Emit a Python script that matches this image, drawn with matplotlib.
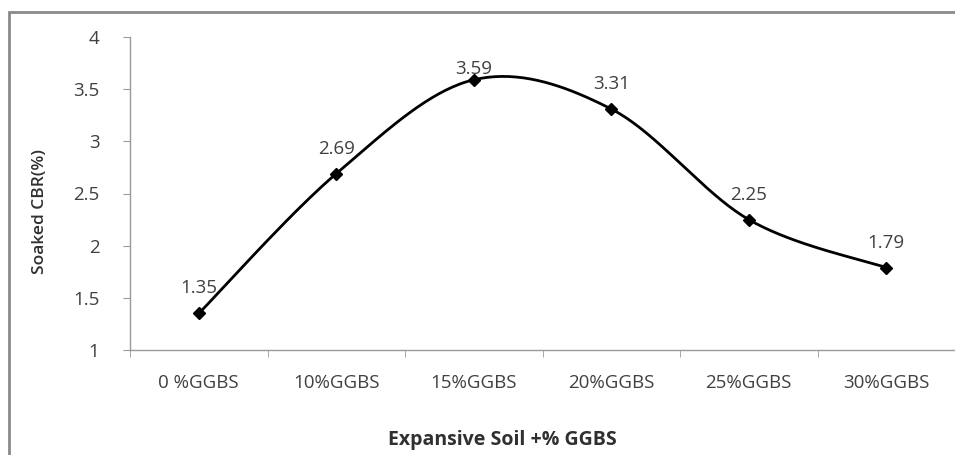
import numpy as np
import matplotlib.pyplot as plt
from matplotlib.patches import Rectangle

categories = ["0 %GGBS", "10%GGBS", "15%GGBS", "20%GGBS", "25%GGBS", "30%GGBS"]
cbr_values = [1.35, 2.69, 3.59, 3.31, 2.25, 1.79]
y_ticks = [1, 1.5, 2, 2.5, 3, 3.5, 4]


def smooth_line(xs, ys, steps=40):
    # excel-style smoothed line (catmull-rom through the points)
    xs = np.asarray(xs, float)
    ys = np.asarray(ys, float)
    px = np.concatenate([[xs[0]], xs, [xs[-1]]])
    py = np.concatenate([[ys[0]], ys, [ys[-1]]])
    out_x, out_y = [], []
    t = np.linspace(0, 1, steps)
    for i in range(1, len(px) - 2):
        for p, out in ((px, out_x), (py, out_y)):
            p0, p1, p2, p3 = p[i - 1], p[i], p[i + 1], p[i + 2]
            out.extend(0.5 * ((2 * p1) + (-p0 + p2) * t
                              + (2 * p0 - 5 * p1 + 4 * p2 - p3) * t**2
                              + (-p0 + 3 * p1 - 3 * p2 + p3) * t**3))
    return out_x, out_y


plt.rcParams['font.family'] = ['Open Sans', 'DejaVu Sans']

W, H = 955, 455
fig = plt.figure(figsize=(W / 100, H / 100), dpi=100)
fig.patches.append(Rectangle((9 / W, -0.1), 2, (H - 12) / H + 0.1,
                             transform=fig.transFigure, fill=False,
                             edgecolor="#8a8a8a", linewidth=2))

ax = fig.add_axes([130 / W, 1 - 350 / H, (W - 130) / W, (350 - 37) / H])
x = np.arange(len(categories))

sx, sy = smooth_line(x, cbr_values)
ax.plot(sx, sy, color="black", linewidth=2)
ax.plot(x, cbr_values, linestyle="none", marker="D", markersize=6.5,
        color="black")

for i, v in enumerate(cbr_values):
    dy = 8 if i == 2 else 18
    ax.annotate(f"{v:.2f}", (i, v), xytext=(0, dy), textcoords="offset points",
                ha="center", va="center", fontsize=13.5, color="#404040")

ax.set_xlim(-0.5, len(categories) - 0.5)
ax.set_ylim(1, 4)
ax.set_yticks(y_ticks)
ax.set_yticklabels([f"{t:g}" for t in y_ticks])
ax.set_xticks(x)
ax.set_xticklabels(categories)
ax.set_xticks(np.arange(-0.5, len(categories)), minor=True)

for s in ("top", "right"):
    ax.spines[s].set_visible(False)
for s in ("left", "bottom"):
    ax.spines[s].set_color("#9a9a9a")
    ax.spines[s].set_linewidth(1)

ax.tick_params(axis="y", length=5, color="#9a9a9a", labelsize=13.5,
               labelcolor="#404040", pad=17)
ax.tick_params(axis="x", which="major", length=0, labelsize=13.5,
               labelcolor="#404040", pad=17)
ax.tick_params(axis="x", which="minor", length=5, color="#9a9a9a")

fig.text(40 / W, 1 - 212 / H, "Soaked CBR(%)", rotation=90, ha="center",
         va="center", fontsize=12.5, fontweight="semibold", color="#303030")
fig.text(502 / W, 1 - 440 / H, "Expansive Soil +% GGBS", ha="center",
         va="center", fontsize=14, fontweight="bold", color="#303030")

fig.savefig("out.png", dpi=100)
